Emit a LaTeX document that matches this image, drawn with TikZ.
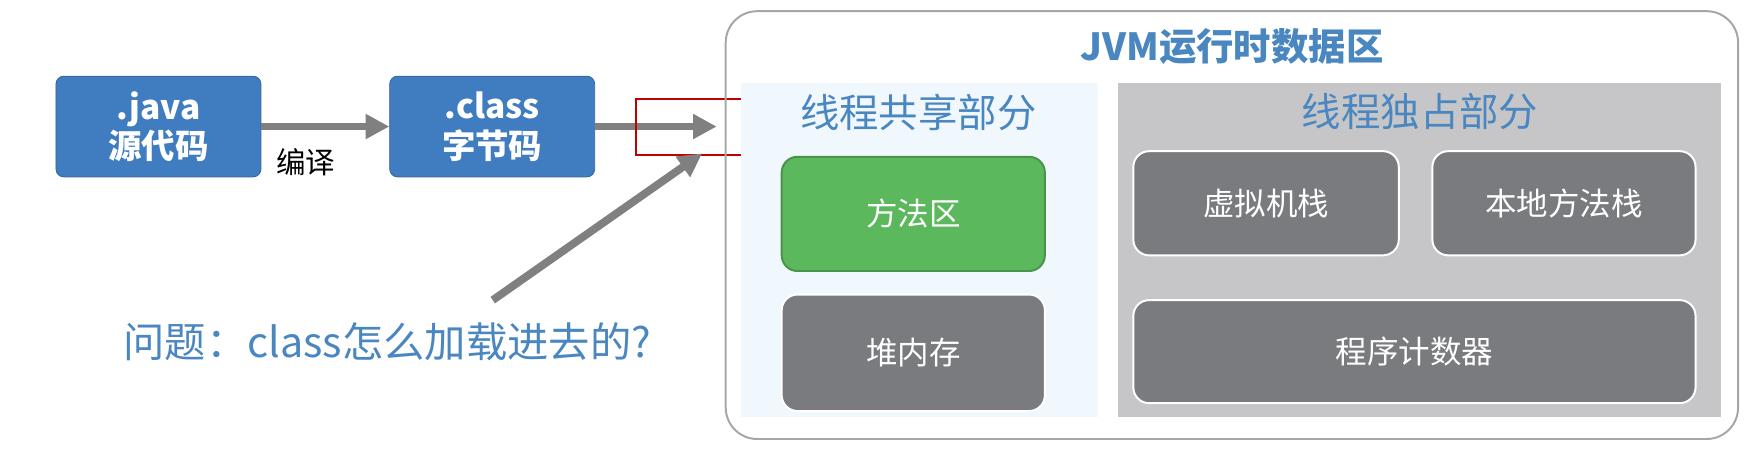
\documentclass[tikz,border=0pt]{standalone}
\usepackage{fontspec}
\setmainfont{Noto Sans CJK SC}
\usetikzlibrary{arrows.meta}
\definecolor{jblue}{HTML}{3F7DC0}
\definecolor{tblue}{HTML}{4A86C0}
\definecolor{mgreen}{HTML}{5CB85C}
\definecolor{mgray}{HTML}{7A7B7F}
\definecolor{lgray}{HTML}{C6C6C8}
\definecolor{lblue}{HTML}{F0F8FE}
\definecolor{agray}{HTML}{808080}
\begin{document}
\begin{tikzpicture}[x=0.02cm,y=-0.02cm,
  bluebox/.style={fill=jblue,draw=jblue!80!black,rounded corners=4pt,text=white,font=\fontsize{17}{20}\selectfont\bfseries,align=center},
  membox/.style={rounded corners=8pt,draw=white,line width=1pt,text=white,font=\fontsize{16}{19}\selectfont},
  arr/.style={draw=agray,line width=4pt,-{Triangle[length=12pt,width=12pt]}},
  ttl/.style={text=tblue,font=\fontsize{20}{24}\selectfont}]
\useasboundingbox (0,0) rectangle (1568,404);
\node[bluebox,minimum width=183*0.02cm,minimum height=90*0.02cm] (java) at (141.5,113) {.java\\源代码};
\node[bluebox,minimum width=183*0.02cm,minimum height=90*0.02cm] (class) at (439.5,113) {.class\\字节码};
\coordinate (t1) at (640,113);
\draw[arr] (java.east) -- (class.west);
\draw[arr] (class.east) -- (t1);
\node[font=\fontsize{15}{18}\selectfont] (by) at (273,145) {编译};
\node[draw=red!75!black,line width=1pt,minimum width=112*0.02cm,minimum height=50*0.02cm] (red) at (624,113) {};
\node[text=tblue,font=\fontsize{21}{25}\selectfont,anchor=west] (q) at (104,305) {问题：class怎么加载进去的?};
\coordinate (qs) at (440,268);
\coordinate (qe) at (627,137);
\draw[arr] (qs) -- (qe);
\node[draw=gray!70,rounded corners=16pt,line width=1pt,minimum width=904*0.02cm,minimum height=382*0.02cm] (jvm) at (1100,201) {};
\node[text=tblue,font=\fontsize{19}{23}\selectfont\bfseries] (jt) at (1100,42) {JVM运行时数据区};
\node[fill=lblue,minimum width=318*0.02cm,minimum height=298*0.02cm,inner sep=0] (sh) at (821,223) {};
\node[fill=lgray,minimum width=539*0.02cm,minimum height=298*0.02cm,inner sep=0] (ex) at (1267.5,223) {};
\node[ttl] (sht) at (820,100) {线程共享部分};
\node[ttl] (ext) at (1268,100) {线程独占部分};
\node[membox,fill=mgreen,draw=mgreen!80!black,minimum width=235*0.02cm,minimum height=102*0.02cm] (ff) at (815.5,191) {方法区};
\node[membox,fill=mgray,minimum width=235*0.02cm,minimum height=104*0.02cm] (dn) at (815.5,315) {堆内存};
\node[membox,fill=mgray,minimum width=237*0.02cm,minimum height=93*0.02cm] (xj) at (1130.5,181.5) {虚拟机栈};
\node[membox,fill=mgray,minimum width=235*0.02cm,minimum height=93*0.02cm] (bd) at (1396.5,181.5) {本地方法栈};
\node[membox,fill=mgray,minimum width=502*0.02cm,minimum height=92*0.02cm] (pc) at (1263,314) {程序计数器};
\end{tikzpicture}
\end{document}
